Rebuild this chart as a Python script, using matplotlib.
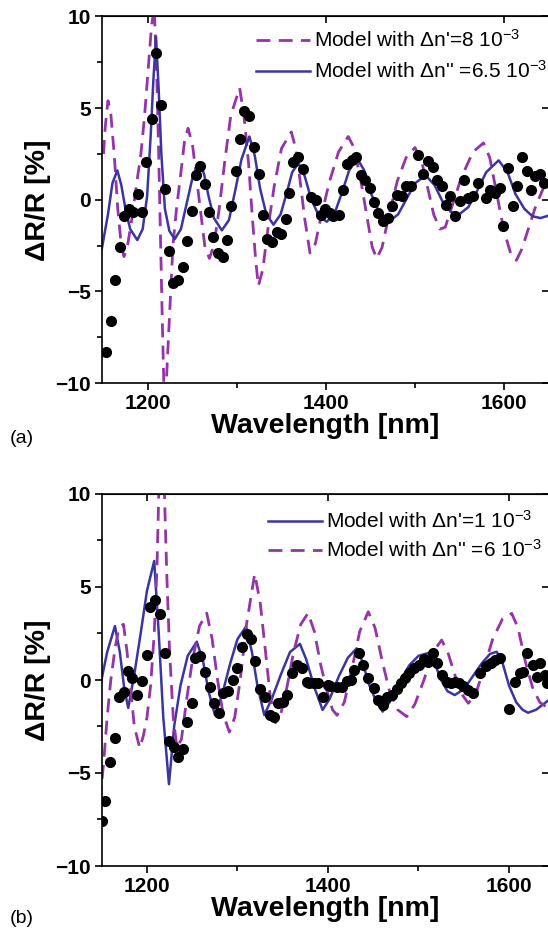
import matplotlib
matplotlib.use("Agg")
import matplotlib.pyplot as plt
import numpy as np

plt.rcParams['font.family'] = ['Liberation Sans', 'DejaVu Sans']
plt.rcParams['mathtext.fontset'] = 'custom'
plt.rcParams['mathtext.rm'] = 'Liberation Sans'
plt.rcParams['mathtext.default'] = 'regular'

# ---- panel (a) ----
a_wl_dash = [1150, 1152, 1155, 1158, 1162, 1166, 1170, 1173, 1177, 1182, 1187, 1192, 1196, 1200,
             1204, 1207, 1210, 1212, 1214, 1216, 1218, 1220, 1222, 1225, 1228, 1232, 1237, 1241,
             1245, 1250, 1255, 1260, 1264, 1269, 1274, 1280, 1286, 1293, 1303, 1308, 1313, 1317,
             1321, 1324, 1329, 1335, 1342, 1350, 1361, 1366, 1371, 1376, 1382, 1388, 1395, 1404,
             1414, 1425, 1432, 1440, 1447, 1452, 1457, 1463, 1470, 1480, 1490, 1500, 1508, 1515,
             1521, 1528, 1534, 1542, 1552, 1565, 1577, 1584, 1592, 1600, 1608, 1614, 1620, 1628,
             1636, 1644, 1651]
a_val_dash = [2.5, 4.0, 5.4, 4.8, 2.5, -0.5, -2.5, -3.1, -2.5, -1.0, 0.8, 2.5, 4.5, 7.0,
              9.5, 10.5, 6.5, 2.5, -2.0, -6.5, -10.5, -10.6, -8.5, -5.5, -2.5, -0.5, 1.5, 3.2,
              3.9, 3.0, 1.0, -1.0, -2.6, -3.2, -2.5, -0.5, 2.0, 4.6, 6.1, 4.5, 2.0, -0.8,
              -3.3, -4.7, -3.8, -1.5, 0.8, 2.8, 3.7, 2.8, 1.0, -1.0, -2.9, -2.4, -0.8, 1.0,
              2.6, 3.45, 2.8, 0.8, -1.2, -2.6, -3.2, -2.6, -1.0, 1.0, 2.3, 2.85, 2.0, 0.5,
              -0.8, -1.6, -1.5, -0.3, 1.2, 2.6, 3.1, 2.3, 0.3, -1.7, -3.0, -3.3, -2.7, -1.5,
              -0.3, 0.6, 1.1]

a_wl_solid = [1148, 1155, 1160, 1165.5, 1170, 1175, 1180, 1188, 1194, 1199, 1203, 1206, 1209,
              1212, 1215, 1219, 1224, 1230, 1237, 1243, 1250, 1257.7, 1263, 1268, 1274, 1283,
              1291, 1298, 1305, 1313.9, 1320, 1326, 1333, 1341, 1349, 1356, 1362, 1369, 1376,
              1383, 1392, 1401, 1410, 1418, 1426, 1435, 1443, 1451, 1460, 1471, 1481, 1490,
              1500, 1512, 1522, 1531, 1540, 1549, 1560, 1570, 1580, 1594, 1604, 1613, 1623,
              1632, 1641, 1651]
a_val_solid = [-2.7, -0.8, 0.9, 1.6, 0.8, -0.6, -1.6, -2.2, -1.6, 0.2, 3.5, 6.5, 8.9,
               6.0, 2.5, -0.5, -1.7, -2.15, -1.6, -0.3, 1.2, 2.05, 1.4, 0.2, -1.0, -1.67,
               -1.1, 0.5, 2.2, 3.45, 2.4, 0.6, -0.8, -1.36, -0.8, 0.4, 1.5, 2.0, 1.3,
               0.1, -0.9, -1.2, -0.7, 0.4, 1.6, 2.25, 1.6, 0.3, -0.7, -1.18, -0.8, 0.0,
               0.9, 1.33, 0.8, -0.1, -0.65, -0.82, -0.4, 0.5, 1.5, 2.15, 1.5, 0.3, -0.5,
               -0.9, -1.0, -0.85]

a_wl_meas = [1152.8, 1158, 1163, 1168.5, 1173, 1179, 1183.5, 1188.4, 1193, 1197.8, 1204, 1208.6,
             1214.2, 1219, 1223.6, 1228.5, 1234, 1239, 1244, 1249, 1254, 1258.4, 1263.7, 1268.5,
             1273.4, 1279, 1284, 1288.4, 1293, 1298.5, 1303.4, 1308.2, 1313.8, 1319, 1324.4,
             1328.9, 1333.4, 1339, 1344.6, 1350, 1354.7, 1358.8, 1363.3, 1369, 1374.5, 1382.8,
             1388.8, 1394, 1399, 1404, 1408, 1415, 1418.7, 1424, 1428.8, 1433.7, 1439, 1444,
             1449.4, 1454, 1458.8, 1463.7, 1470, 1473.8, 1479.4, 1485, 1490, 1495, 1503.7,
             1509, 1515, 1519.8, 1525, 1530, 1534.8, 1539.3, 1545, 1550.6, 1555, 1560, 1565.5,
             1571, 1579.8, 1584.3, 1590, 1595.5, 1598.5, 1604.8, 1610.4, 1615, 1620, 1625.5,
             1630, 1634.8, 1640.4, 1645]
a_val_meas = [-8.31, -6.6, -4.36, -2.58, -0.87, -0.51, -0.69, 0.31, -0.65, 2.04, 4.42, 8.0,
              5.18, 0.6, -2.77, -4.55, -4.36, -3.67, -2.24, -0.6, 1.36, 1.82, 0.86, -0.65,
              -2.04, -2.9, -3.15, -2.18, -0.36, 1.55, 3.3, 4.87, 4.55, 2.9, 1.42,
              -0.82, -2.15, -2.33, -1.78, -1.85, -1.05, 0.36, 2.04, 2.36, 1.67, 0.15,
              0.0, -0.82, -0.51, -0.73, -0.91, -0.82, 0.55, 1.96, 2.18, 2.33, 1.36, 1.1,
              0.64, -0.15, -0.73, -1.18, -1.0, -0.33, 0.27, 0.18, 0.76, 0.73, 2.45,
              1.42, 2.09, 1.78, 1.09, 0.76, -0.27, 0.18, -0.87, -0.09, 1.09, 0.09, 0.18,
              0.91, 0.09, 0.55, 0.36, 0.64, -1.45, 1.73, -0.33, 0.76, 2.33, 1.55,
              0.55, 1.27, 1.42, 0.9]

# ---- panel (b) ----
b_wl_solid = [1148, 1156, 1164.6, 1170, 1175, 1179.3, 1186, 1193, 1200, 1208, 1213, 1218,
              1224.3, 1230, 1237, 1245, 1255, 1262, 1268, 1275, 1283, 1292, 1300, 1309.4,
              1316, 1322, 1329.6, 1338, 1348, 1358, 1369, 1376, 1385, 1394, 1402, 1412,
              1422, 1431.7, 1438, 1445, 1452, 1460.4, 1468, 1478, 1490, 1500, 1510.8,
              1518, 1525, 1532, 1540, 1550, 1560, 1570, 1579, 1586.4, 1593, 1600, 1608,
              1615, 1621, 1630, 1638, 1646]
b_val_solid = [-0.4, 1.5, 2.9, 1.5, -0.5, -1.5, 0.3, 2.5, 4.8, 6.4, 2.5, -2.0,
               -5.6, -2.5, -0.3, 1.3, 2.06, 1.0, -0.6, -1.88, -0.8, 0.9, 2.2, 2.87,
               1.5, -0.3, -1.88, -1.0, 0.3, 1.5, 1.94, 1.1, -0.4, -1.61, -1.0, 0.2,
               1.2, 1.7, 1.0, -0.2, -1.0, -1.7, -1.2, -0.2, 0.8, 1.3, 1.45,
               0.9, 0.0, -0.6, -0.81, -0.5, 0.2, 0.9, 1.4, 1.52, 0.9, -0.3, -1.2,
               -1.6, -1.76, -1.6, -1.3, -1.0]

b_wl_dash = [1148, 1152, 1156, 1160, 1165, 1169, 1174, 1178, 1182, 1186, 1192, 1196, 1200,
             1204, 1208, 1211, 1213, 1216, 1219, 1222, 1225, 1229, 1233, 1238, 1244, 1250,
             1258, 1266, 1272, 1278, 1284, 1291, 1297, 1303, 1310, 1319, 1325, 1331, 1336,
             1342, 1348, 1355, 1362, 1370, 1378, 1385, 1392, 1399, 1405, 1410, 1418, 1426,
             1435, 1444.5, 1452, 1460, 1468, 1477, 1487, 1496, 1506, 1516, 1525.6, 1533,
             1540, 1547, 1555, 1563, 1572, 1582, 1593, 1603, 1610, 1618, 1626, 1634, 1646]
b_val_dash = [-6.5, -4.5, -2.0, 0.0, 1.8, 2.8, 3.0, 1.5, -0.5, -2.5, -3.65, -3.0, -2.0,
              -0.3, 2.5, 6.0, 10.0, 12.5, 10.5, 5.5, 1.5, -2.0, -3.6, -3.2, -1.0, 1.0,
              2.9, 3.6, 2.2, 0.0, -1.8, -2.8, -2.0, 0.0, 3.0, 5.7, 4.2, 1.5, -0.8,
              -2.3, -1.8, -0.3, 1.5, 3.0, 3.6, 2.6, 0.8, -0.6, -1.6, -1.9, -1.2, 0.5,
              2.6, 3.67, 2.8, 1.0, -0.6, -1.6, -1.97, -1.3, 0.0, 1.5, 2.15, 1.4,
              0.3, -0.7, -1.25, -0.8, 0.6, 2.2, 3.3, 3.58, 2.8, 1.0, -0.4, -1.2, -1.6]

b_wl_meas = [1150, 1153.6, 1159, 1164.6, 1169.4, 1174.6, 1179.3, 1183.8, 1189.3, 1194, 1199.6,
             1203.3, 1208.8, 1214.4, 1220, 1224.6, 1229.8, 1234.6, 1240, 1244.6, 1249.4, 1253,
             1258.6, 1264, 1269.6, 1274, 1279.6, 1284.3, 1289.9, 1294.7, 1299, 1304.6, 1310,
             1315, 1319.3, 1324.9, 1330.4, 1336, 1340.3, 1345, 1350, 1355, 1359.9, 1365.4,
             1371, 1377, 1379, 1384.5, 1389.3, 1394.8, 1400, 1402, 1409.6, 1415, 1420.7, 1425,
             1428.7, 1434.6, 1439, 1444.5, 1450.8, 1455.6, 1460.4, 1465.5, 1470.4, 1476, 1480.3,
             1485, 1490, 1495, 1501, 1506, 1510.8, 1515.7, 1520, 1525.6, 1531, 1535.6, 1540.3,
             1545, 1549.5, 1555, 1560, 1568, 1574.6, 1579.8, 1584.5, 1590, 1600, 1606.6, 1612,
             1616, 1620, 1626, 1630.6, 1634, 1639.8, 1642]
b_val_meas = [-7.6, -6.5, -4.4, -3.1, -0.93, -0.66, 0.5, 0.09, -0.81, -0.04, 1.34,
              3.94, 4.3, 3.55, 1.43, -3.28, -3.58, -4.12, -3.73, -2.24, -1.22, 1.16,
              1.31, 0.45, -0.36, -1.22, -1.79, -0.72, -0.57, 0.0, 0.63, 1.79, 2.47,
              2.19, 1.04, -0.5, -0.9, -1.88, -2.0, -1.25, -1.16, -0.81, 0.36, 0.81,
              0.63, -0.09, -0.14, -0.14, -0.18, -0.93, -0.27, -0.32, -0.36, -0.36, -0.04, 0.0,
              0.54, 1.43, 0.81, 0.09, -0.45, -1.08, -1.34, -0.9, -0.81, -0.5, -0.18,
              0.09, 0.36, 0.63, 0.81, 1.11, 0.98, 1.47, 0.9, 0.27, -0.09, -0.18, -0.09,
              -0.18, -0.32, -0.54, -0.72, 0.39, 0.75, 0.9, 1.08, 1.17, -1.58, -0.09, 0.39,
              0.45, 1.43, 0.81, 0.18, 0.93, 0.27, -0.18]

BLUE = '#3b34a3'
PURPLE = '#9533a8'
DASH = (0, (5, 3))


def style_axes(ax, xlim):
    ax.set_xlim(*xlim)
    ax.set_ylim(-10, 10)
    ax.set_xticks([1200, 1400, 1600])
    ax.set_xticks([1300, 1500], minor=True)
    ax.set_yticks([-10, -5, 0, 5, 10])
    ax.set_yticks([-7.5, -2.5, 2.5, 7.5], minor=True)
    ax.tick_params(which='both', direction='out', top=False, right=False, width=1.2)
    ax.tick_params(which='major', length=5, labelsize=15, pad=3)
    ax.tick_params(which='minor', length=3.5)
    for lab in ax.get_xticklabels() + ax.get_yticklabels():
        lab.set_fontweight('bold')
    for s in ax.spines.values():
        s.set_linewidth(1.2)
    top = ax.secondary_xaxis('top')
    top.set_xticks([1200, 1400, 1600])
    top.tick_params(direction='in', length=5, width=1.2, labeltop=False)
    right = ax.secondary_yaxis('right')
    right.set_yticks([-10, -5, 0, 5, 10])
    right.tick_params(direction='in', length=5, width=1.2, labelright=False)
    ax.set_xlabel('Wavelength [nm]', fontsize=20.5, fontweight='bold', labelpad=0)
    ax.set_ylabel('ΔR/R [%]', fontsize=20.5, fontweight='bold', labelpad=3)


fig = plt.figure(figsize=(5.48, 9.38), dpi=100)
W, H = 548, 938

ax_a = fig.add_axes([102 / W, 1 - 383 / H, 447 / W, (383 - 16.5) / H])
ax_a.plot(a_wl_dash, a_val_dash, color=PURPLE, lw=2, ls=DASH,
          label="Model with Δn'=8 10$^{-3}$")
ax_a.plot(a_wl_solid, a_val_solid, color=BLUE, lw=1.8,
          label="Model with Δn'' =6.5 10$^{-3}$")
ax_a.plot(a_wl_meas, a_val_meas, 'o', color='black', ms=7, zorder=3)
style_axes(ax_a, (1148.3, 1650.6))
ax_a.legend(loc='upper left', bbox_to_anchor=(256 / W, 1 - 29 / H), bbox_transform=fig.transFigure,
            frameon=False, fontsize=15, handlelength=2.6, handletextpad=0.2, labelspacing=0.45,
            borderpad=0, borderaxespad=0)

ax_b = fig.add_axes([102 / W, 1 - 866 / H, 447 / W, (866 - 494) / H])
ax_b.plot(b_wl_solid, b_val_solid, color=BLUE, lw=1.8,
          label="Model with Δn'=1 10$^{-3}$")
ax_b.plot(b_wl_dash, b_val_dash, color=PURPLE, lw=2, ls=DASH,
          label="Model with Δn'' =6 10$^{-3}$")
ax_b.plot(b_wl_meas, b_val_meas, 'o', color='black', ms=7, zorder=3)
style_axes(ax_b, (1150.3, 1644.2))
ax_b.legend(loc='upper left', bbox_to_anchor=(268 / W, 1 - 510 / H), bbox_transform=fig.transFigure,
            frameon=False, fontsize=15, handlelength=2.6, handletextpad=0.2, labelspacing=0.35,
            borderpad=0, borderaxespad=0)

fig.text(10 / W, 1 - 438 / H, '(a)', fontsize=14, va='center', ha='left')
fig.text(10 / W, 1 - 918 / H, '(b)', fontsize=14, va='center', ha='left')

fig.savefig('out.png', dpi=100)
